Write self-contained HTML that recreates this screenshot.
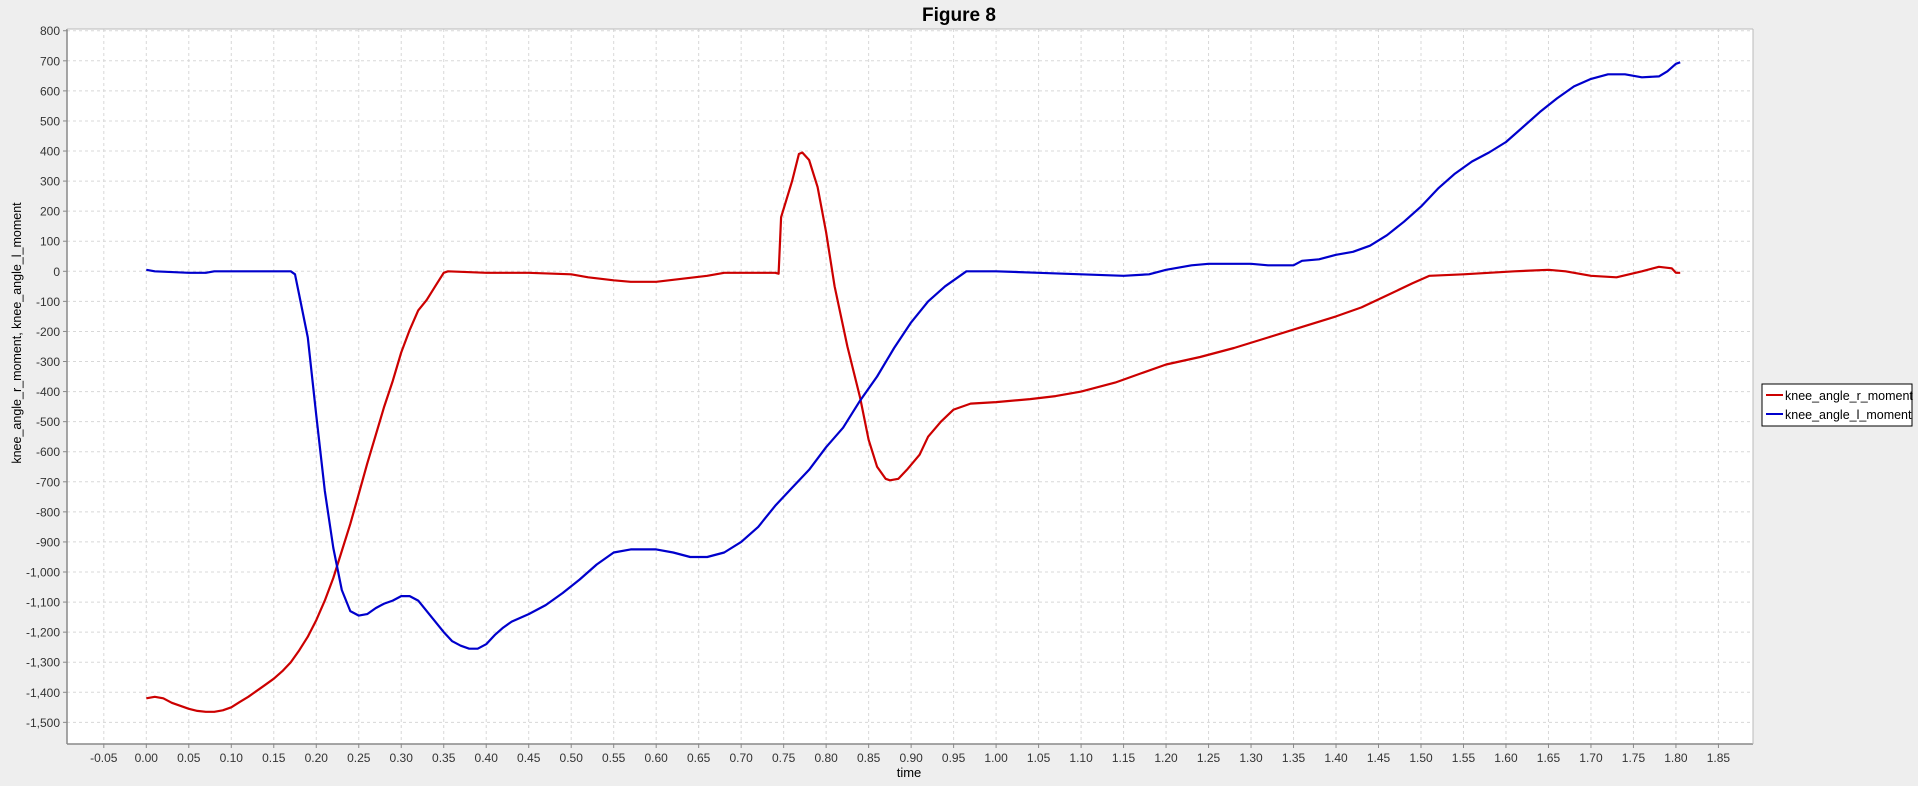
<!DOCTYPE html>
<html><head><meta charset="utf-8">
<style>
html,body{margin:0;padding:0;background:#eeeeee;}
svg{display:block;font-family:"Liberation Sans",Arial,sans-serif;}
</style></head>
<body>
<svg id="chart" width="1918" height="786" xmlns="http://www.w3.org/2000/svg">
<rect x="0" y="0" width="1918" height="786" fill="#eeeeee"/>
<text x="959" y="21" text-anchor="middle" font-size="19" font-weight="bold" fill="#000">Figure 8</text>
<rect x="67" y="29" width="1686" height="715" fill="#ffffff"/>
<g id="grid"></g>
<g id="series"></g>
<line x1="67" y1="29" x2="67" y2="744" stroke="#888" stroke-width="1.5"/>
<line x1="67" y1="744" x2="1753" y2="744" stroke="#888" stroke-width="1.5"/>
<line x1="1753" y1="29" x2="1753" y2="744" stroke="#bbb" stroke-width="1"/>
<line x1="67" y1="29" x2="1753" y2="29" stroke="#bbb" stroke-width="1"/>
<g id="yticks"></g>
<g id="xticks"></g>
<text x="909" y="777" text-anchor="middle" font-size="13" fill="#000">time</text>
<text transform="translate(21,333) rotate(-90)" text-anchor="middle" font-size="12.5" fill="#000">knee_angle_r_moment, knee_angle_l_moment</text>
<g>
<rect x="1762" y="384" width="150" height="42" fill="#fff" stroke="#000" stroke-width="1"/>
<line x1="1766" y1="395" x2="1783" y2="395" stroke="#cc0000" stroke-width="2"/>
<text x="1785" y="400" font-size="12.5" fill="#000">knee_angle_r_moment</text>
<line x1="1766" y1="414" x2="1783" y2="414" stroke="#0000cc" stroke-width="2"/>
<text x="1785" y="419" font-size="12.5" fill="#000">knee_angle_l_moment</text>
</g>
</svg>
<script>
const xTicks = [-0.05,0,0.05,0.1,0.15,0.2,0.25,0.3,0.35,0.4,0.45,0.5,0.55,0.6,0.65,0.7,0.75,0.8,0.85,0.9,0.95,1.0,1.05,1.1,1.15,1.2,1.25,1.3,1.35,1.4,1.45,1.5,1.55,1.6,1.65,1.7,1.75,1.8,1.85];
const yTicks = [800,700,600,500,400,300,200,100,0,-100,-200,-300,-400,-500,-600,-700,-800,-900,-1000,-1100,-1200,-1300,-1400,-1500];
const rTime = [0,0.01,0.02,0.03,0.04,0.05,0.06,0.07,0.08,0.09,0.10,0.11,0.12,0.13,0.14,0.15,0.16,0.17,0.18,0.19,0.20,0.21,0.22,0.23,0.24,0.25,0.26,0.27,0.28,0.29,0.30,0.31,0.32,0.33,0.34,0.35,0.355,0.40,0.45,0.50,0.52,0.55,0.57,0.60,0.63,0.66,0.68,0.74,0.744,0.747,0.76,0.768,0.772,0.78,0.79,0.80,0.81,0.825,0.84,0.85,0.86,0.87,0.875,0.885,0.895,0.91,0.92,0.935,0.95,0.97,1.0,1.04,1.07,1.10,1.14,1.17,1.20,1.24,1.28,1.32,1.36,1.40,1.43,1.46,1.49,1.51,1.55,1.58,1.61,1.65,1.67,1.70,1.73,1.76,1.78,1.795,1.80,1.805];
const rValues = [-1420,-1415,-1420,-1435,-1445,-1455,-1462,-1465,-1465,-1460,-1450,-1432,-1415,-1395,-1375,-1355,-1330,-1300,-1260,-1215,-1160,-1095,-1020,-930,-840,-740,-640,-545,-450,-365,-270,-195,-130,-95,-50,-5,0,-5,-5,-10,-20,-30,-35,-35,-25,-15,-5,-5,-8,180,300,390,395,370,280,130,-50,-250,-420,-560,-650,-690,-695,-690,-660,-610,-550,-500,-460,-440,-435,-425,-415,-400,-370,-340,-310,-285,-255,-220,-185,-150,-120,-80,-40,-15,-10,-5,0,5,0,-15,-20,0,15,10,-5,-5];
const lTime = [0,0.01,0.05,0.07,0.08,0.17,0.175,0.18,0.19,0.20,0.21,0.22,0.23,0.24,0.25,0.26,0.27,0.28,0.29,0.30,0.31,0.32,0.33,0.34,0.35,0.36,0.37,0.38,0.39,0.40,0.41,0.42,0.43,0.45,0.47,0.49,0.51,0.53,0.55,0.57,0.60,0.62,0.64,0.66,0.68,0.70,0.72,0.74,0.76,0.78,0.80,0.82,0.84,0.86,0.88,0.90,0.92,0.94,0.955,0.965,1.0,1.05,1.1,1.15,1.18,1.20,1.23,1.25,1.30,1.32,1.35,1.36,1.38,1.40,1.42,1.44,1.46,1.48,1.50,1.52,1.54,1.56,1.58,1.60,1.62,1.64,1.66,1.68,1.70,1.72,1.74,1.76,1.78,1.79,1.80,1.805];
const lValues = [5,0,-5,-5,0,0,-10,-80,-220,-480,-730,-920,-1060,-1130,-1145,-1140,-1120,-1105,-1095,-1080,-1080,-1095,-1130,-1165,-1200,-1230,-1245,-1255,-1255,-1240,-1210,-1185,-1165,-1140,-1110,-1070,-1025,-975,-935,-925,-925,-935,-950,-950,-935,-900,-850,-780,-720,-660,-585,-520,-430,-350,-255,-170,-100,-50,-20,0,0,-5,-10,-15,-10,5,20,25,25,20,20,35,40,55,65,85,120,165,215,275,325,365,395,430,480,530,575,615,640,655,655,645,648,665,690,695];

const NS = "http://www.w3.org/2000/svg";
const X0 = 146.3, XPER = 42.49 / 0.05;
const Y0 = 271.3, YPER = 30.07 / 100;
function xs(t){ return X0 + t * XPER; }
function ys(v){ return Y0 - v * YPER; }
function mk(tag, attrs){ const e = document.createElementNS(NS, tag); for (const k in attrs) e.setAttribute(k, attrs[k]); return e; }
const grid = document.getElementById('grid');
const yg = document.getElementById('yticks');
const xg = document.getElementById('xticks');
function fmtY(v){ const s = Math.abs(v).toString().replace(/\B(?=(\d{3})+(?!\d))/g, ","); return (v < 0 ? "-" : "") + s; }
yTicks.forEach(v => {
  const y = ys(v);
  const gl = mk('line', {x1:67, x2:1753, y1:y, y2:y, stroke:'#d8d8d8', 'stroke-width':1, 'stroke-dasharray':'3,3'});
  
  
  grid.appendChild(gl);
  const tk = mk('line', {x1:63, x2:67, y1:y, y2:y, stroke:'#888'});
  
  
  yg.appendChild(tk);
  const tx = mk('text', {x:60, y:y+4.5, 'text-anchor':'end', 'font-size':12, fill:'#333'});
  tx.textContent = fmtY(v);
  
  
  yg.appendChild(tx);
});
xTicks.forEach(t => {
  const x = xs(t);
  const gl = mk('line', {x1:x, x2:x, y1:29, y2:744, stroke:'#d8d8d8', 'stroke-width':1, 'stroke-dasharray':'3,3'});
  
  
  grid.appendChild(gl);
  const tk = mk('line', {x1:x, x2:x, y1:744, y2:748, stroke:'#888'});
  
  
  xg.appendChild(tk);
  const tx = mk('text', {x:x, y:762, 'text-anchor':'middle', 'font-size':12, fill:'#333'});
  tx.textContent = t.toFixed(2);
  
  
  xg.appendChild(tx);
});
const sg = document.getElementById('series');
function drawLine(ts, vs, color, name){
  const d = ts.map((t,i) => (i ? 'L' : 'M') + xs(t).toFixed(1) + ',' + ys(vs[i]).toFixed(1)).join(' ');
  const p = mk('path', {d:d, fill:'none', stroke:color, 'stroke-width':2.2, 'stroke-linejoin':'round'});
  
  
  sg.appendChild(p);
}
drawLine(rTime, rValues, '#cc0000', 'series-knee-angle-r-moment');
drawLine(lTime, lValues, '#0000cc', 'series-knee-angle-l-moment');
</script>
</body></html>
